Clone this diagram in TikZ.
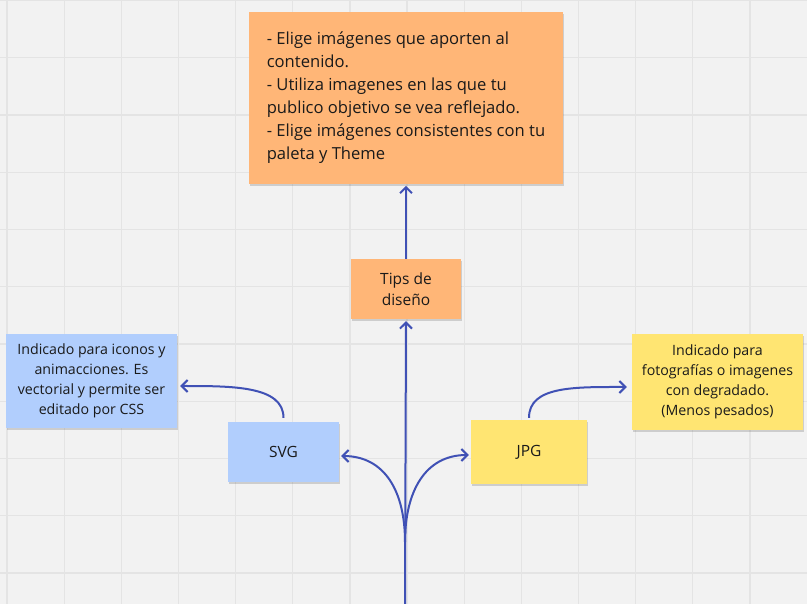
\documentclass[tikz,border=0pt]{standalone}
\usepackage{fontspec}
\setmainfont{Open Sans}
\usepackage{xcolor}
\usepackage{tikz}
\usetikzlibrary{positioning, arrows.meta, shadows}
\definecolor{mrbg}{HTML}{F2F2F2}
\definecolor{mrgrid}{HTML}{E4E4E4}
\definecolor{mrorange}{HTML}{FFB677}
\definecolor{mrblue}{HTML}{B1CEFD}
\definecolor{mryellow}{HTML}{FFE572}
\definecolor{mrindigo}{HTML}{4051B5}
\definecolor{mrtext}{HTML}{1A1A1A}

\begin{document}
\begin{tikzpicture}[
  x=1pt, y=-1pt,
  note/.style={
    rectangle, inner sep=0pt, text=mrtext, align=center,
    drop shadow={shadow xshift=1pt, shadow yshift=-2pt, opacity=0.15, fill=black}
  },
  orangenote/.style={note, fill=mrorange},
  bluenote/.style={note, fill=mrblue},
  yellownote/.style={note, fill=mryellow},
  small/.style={font=\fontsize{14.2}{20}\selectfont},
  gridline/.style={mrgrid, line width=1.2pt},
  arr/.style={-{Straight Barb[length=6pt, width=12pt]}, line width=2pt, color=mrindigo},
]

% Fondo y cuadricula
\fill[mrbg] (0,0) rectangle (807,604);
\useasboundingbox (0,0) rectangle (807,604);
\foreach \i in {0,...,14} \draw[gridline] (7+57.15*\i,0) -- (7+57.15*\i,604);
\foreach \j in {0,...,10} \draw[gridline] (0,0.5+57.25*\j) -- (807,0.5+57.25*\j);

% Tips
\node[orangenote, minimum width=110pt, minimum height=60pt, font=\fontsize{15.5}{21}\selectfont] (tips) at (406,289) {Tips de\\diseño};
\node[orangenote, minimum width=314pt, minimum height=172pt, align=left, font=\fontsize{16.6}{23}\selectfont, above=75pt of tips] (consejos)
  {- Elige imágenes que aporten al\\contenido.\\- Utiliza imagenes en las que tu\\publico objetivo se vea reflejado.\\- Elige imágenes consistentes con tu\\paleta y Theme};

% Formatos
\node[bluenote, minimum width=111pt, minimum height=60pt, font=\fontsize{15.5}{20}\selectfont] (svg) at (283.5,452) {SVG};
\node[yellownote, minimum width=116pt, minimum height=64pt, font=\fontsize{15.5}{20}\selectfont] (jpg) at (529,452) {JPG};

% Descripciones
\node[bluenote, small, minimum width=171pt, minimum height=94pt] (svginfo) at (91.5,381)
  {Indicado para iconos y\\animacciones. Es\\vectorial y permite ser\\editado por CSS};
\node[yellownote, small, minimum width=171pt, minimum height=96pt] (jpginfo) at (717.5,382)
  {Indicado para\\fotografías o imagenes\\con degradado.\\(Menos pesados)};

% Flechas
\coordinate (base) at (405,604);
\coordinate (raiz) at (405,542);
\draw[arr] (base) -- ([yshift=-2pt]tips.south);
\draw[arr] (tips.north) -- ([yshift=-2pt]consejos.south);
\draw[arr] (raiz) .. controls +(0,-50) and +(44,0) .. ([xshift=2pt, yshift=-4pt]svg.east);
\draw[arr] (raiz) .. controls +(0,-50) and +(-44,0) .. ([xshift=-2pt, yshift=-3pt]jpg.west);
\draw[arr] ([yshift=4pt]svg.north) .. controls +(0,-32) and +(52,0) .. ([xshift=3pt, yshift=-5pt]svginfo.east);
\draw[arr] ([yshift=2pt]jpg.north) .. controls +(0,-32) and +(-52,0) .. ([xshift=-5pt, yshift=-5pt]jpginfo.west);

\end{tikzpicture}
\end{document}
